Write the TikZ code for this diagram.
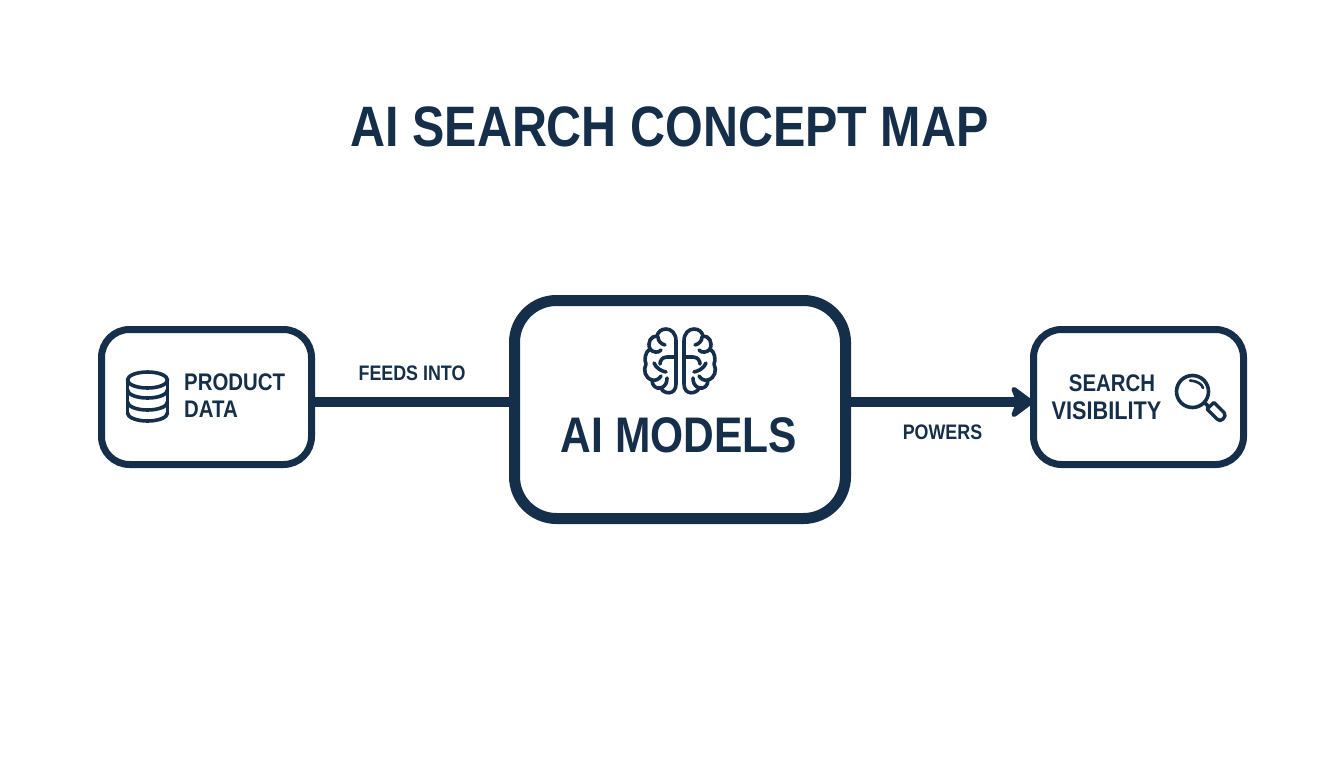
\documentclass[tikz,border=0pt]{standalone}
\usepackage{fontspec}
\newfontfamily\rb[FakeStretch=0.85]{Liberation Sans}
\usetikzlibrary{arrows.meta}
\definecolor{navy}{HTML}{152F4A}
\tikzset{
  box/.style={draw=navy,fill=white,rounded corners=#1,outer sep=0pt,inner sep=0pt},
  smallbox/.style={box=28pt,line width=7pt,minimum width=210pt,minimum height=135pt},
  bigbox/.style={box=42pt,line width=11pt,minimum width=331pt,minimum height=218pt},
  conn/.style={draw=navy,line width=10pt},
  icon/.style={draw=navy,line width=3.6pt,line cap=round,line join=round},
  lab/.style={text=navy,font=\rb\bfseries\fontsize{24}{27}\selectfont,inner sep=0pt,align=center},
  edgelab/.style={text=navy,font=\rb\bfseries\fontsize{21}{23}\selectfont,inner sep=0pt},
}
\begin{document}
\begin{tikzpicture}[x=1pt,y=-1pt]
\useasboundingbox (0,0) rectangle (1344,768);
\fill[white] (0,0) rectangle (1344,768);
\node[text=navy,font=\rb\bfseries\fontsize{57}{60}\selectfont,inner sep=0pt] (title) at (669.5,127) {AI SEARCH CONCEPT MAP};
\node[smallbox] (prod) at (206.5,397) {};
\node[bigbox] (models) at (680,409.5) {};
\node[smallbox] (vis) at (1138.5,397) {};
\draw[conn] ([yshift=-5pt]prod.east) -- ([yshift=7.5pt]models.west);
\draw[conn,-{Stealth[length=26pt,width=38pt,inset=7pt,round]}] ([yshift=7.5pt]models.east) -- ([yshift=-5pt]vis.west);
\node[lab,align=left,anchor=west] (prodtext) at (184,396) {PRODUCT\\DATA};
\node[lab] (searchtext) at (1112,383.5) {SEARCH};
\node[lab,font=\rb\bfseries\fontsize{25.5}{27}\selectfont] (vistext) at (1106.5,410.5) {VISIBILITY};
\node[text=navy,font=\rb\bfseries\fontsize{50}{54}\selectfont,inner sep=0pt] (modtext) at (679,435.5) {AI MODELS};
\node[edgelab] (feeds) at (412,373) {FEEDS INTO};
\node[edgelab] (powers) at (942.5,432) {POWERS};
% database icon
\begin{scope}[icon]
\draw (127.5,380) arc[start angle=180,end angle=-180,x radius=20,y radius=8];
\draw (127.5,380) -- (127.5,413);
\draw (167.5,380) -- (167.5,413);
\draw (127.5,390) arc[start angle=180,end angle=0,x radius=20,y radius=8];
\draw (127.5,402) arc[start angle=180,end angle=0,x radius=20,y radius=8];
\draw (127.5,413) arc[start angle=180,end angle=0,x radius=20,y radius=8];
\end{scope}
% magnifier icon
\begin{scope}[icon]
\draw (1192.5,391.5) circle[radius=16];
\draw[line width=2.6pt] (1190,380.5) .. controls (1197,381) and (1202,384) .. (1203,388);
\draw (1204.5,402.5) -- (1209,407);
\draw[line width=3.4pt] (1209,407) -- (1214,402.5) -- (1224,412.5) .. controls (1226,415) and (1225,417) .. (1223,419) .. controls (1221,421) and (1219,421) .. (1217,419) -- (1207,409) -- (1209,407);
\end{scope}
% brain icon
\foreach \s/\o in {1/680,-1/680}{
\begin{scope}[icon,shift={(680,0)},xscale=\s]
\draw (4,341) .. controls (4,333) and (9,329) .. (14,329) .. controls (19,329) and (22,332) .. (23,336)
 .. controls (29,336) and (33,342) .. (30,349) .. controls (35,352) and (36,360) .. (34,364)
 .. controls (37,370) and (35,378) .. (28,380) .. controls (28,386) and (24,389) .. (19,388)
 .. controls (17,394) and (4,396) .. (4,384) -- cycle;
\draw (22,337) .. controls (22,341) and (19,344) .. (15,345);
\draw (30,349) .. controls (27,353) and (21,353) .. (19,350);
\draw (4,357) -- (13,357) .. controls (18,357) and (20,361) .. (20,364);
\draw (26,363) .. controls (24,368) and (19,371) .. (14,372);
\draw (28,380) .. controls (24,381) and (21,379) .. (19,376);
\draw (19,388) .. controls (14,386) and (13,382) .. (13,378);
\end{scope}}
\end{tikzpicture}
\end{document}
